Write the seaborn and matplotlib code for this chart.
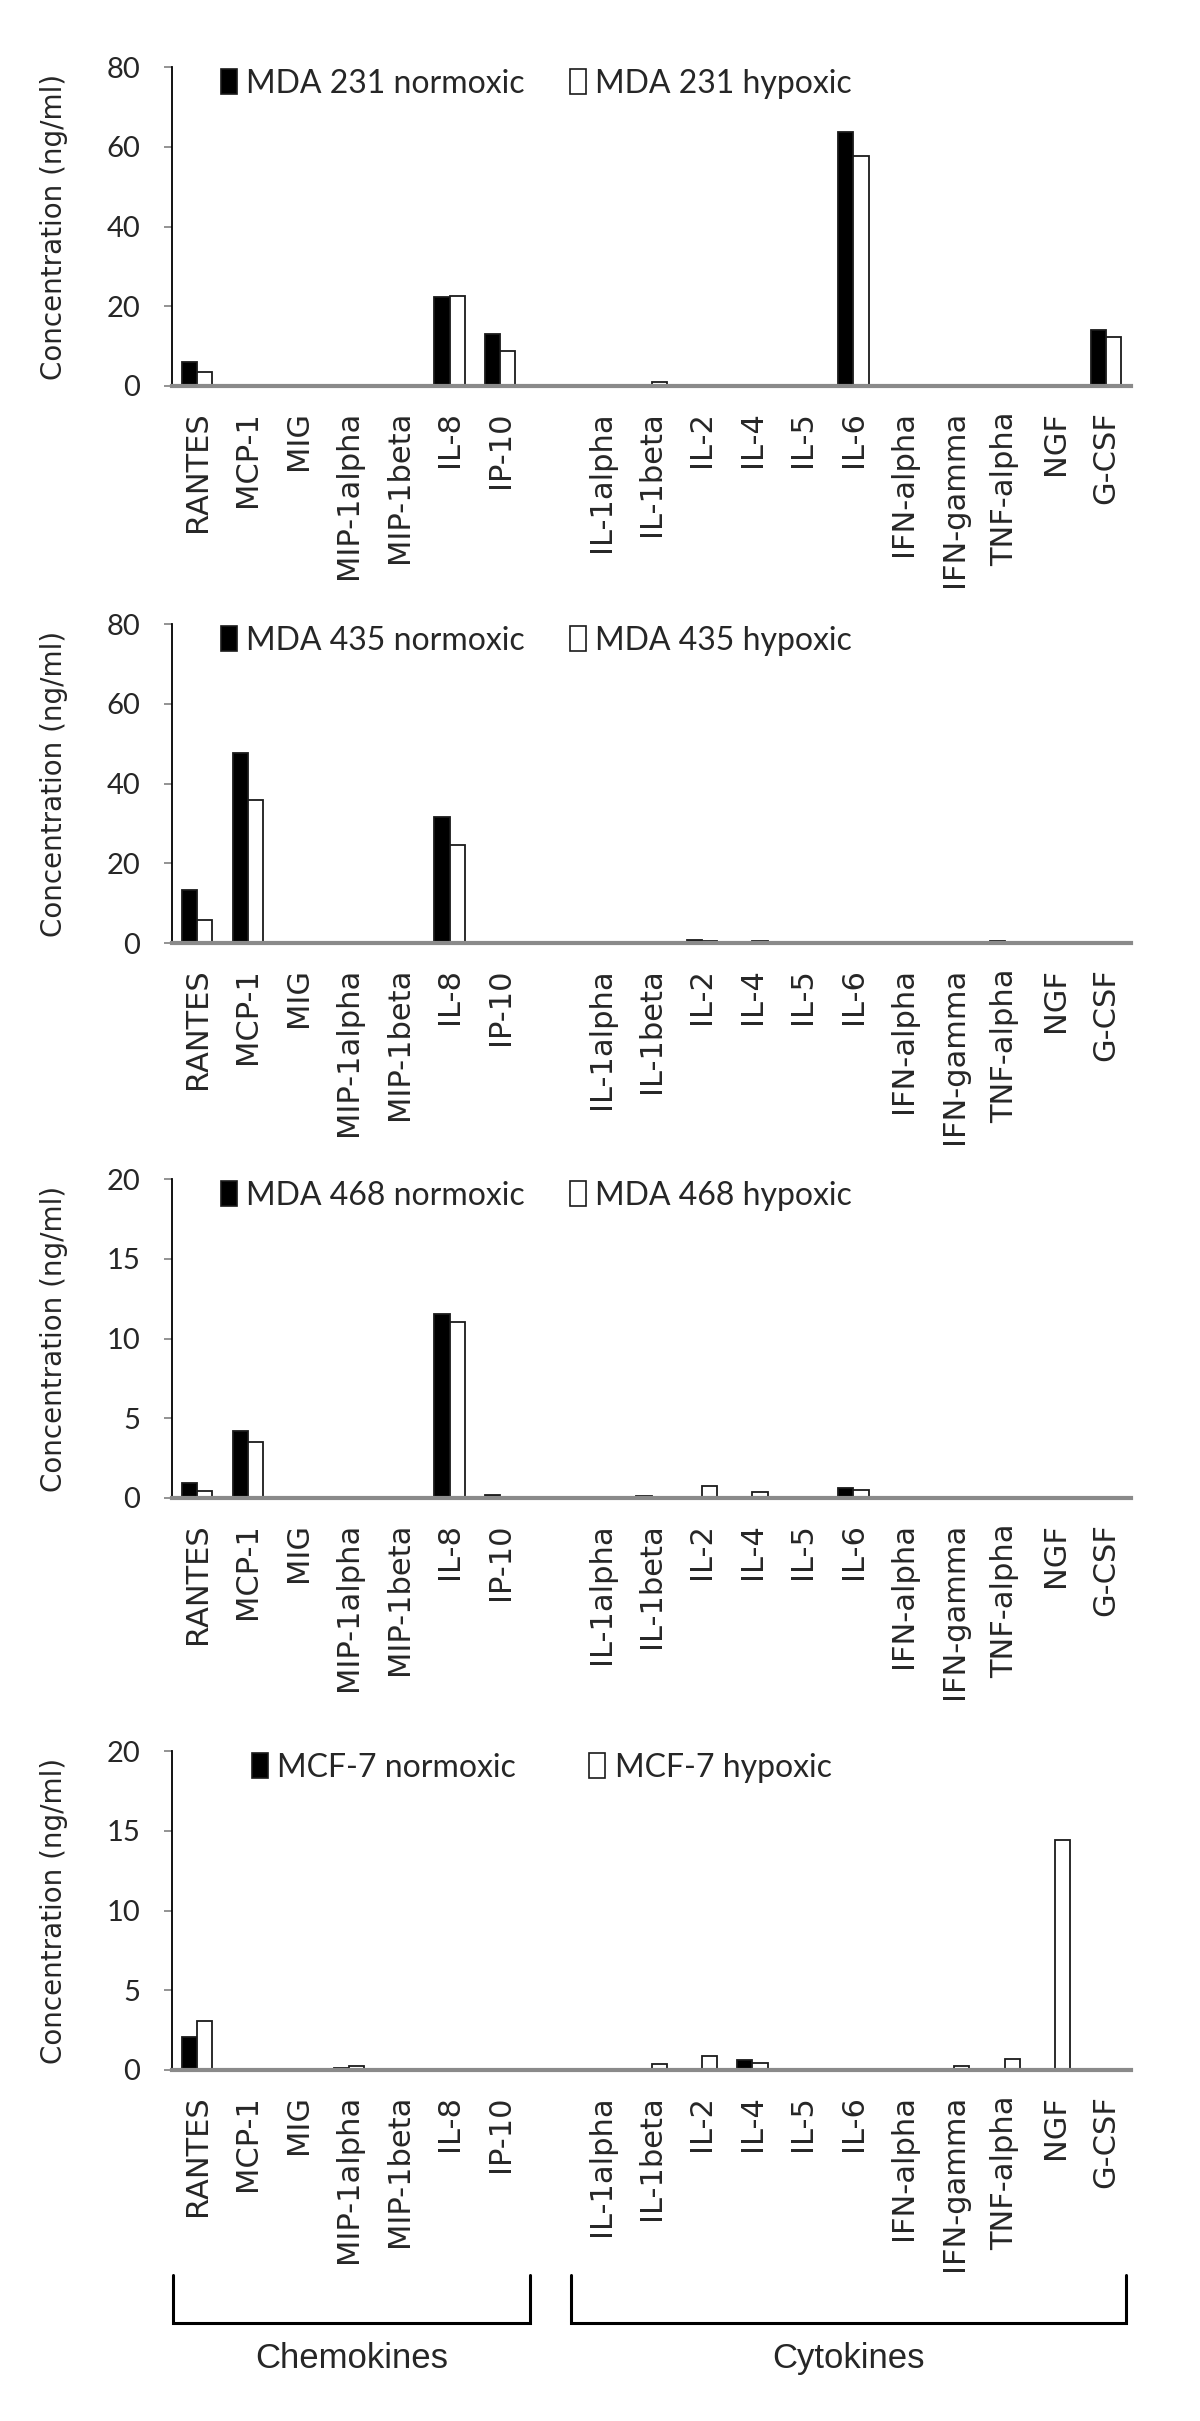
import matplotlib
matplotlib.use('Agg')
import matplotlib.pyplot as plt
import matplotlib.transforms as mtransforms
from matplotlib.patches import Patch
import pandas as pd
import seaborn as sns

chemokines = ['RANTES', 'MCP-1', 'MIG', 'MIP-1alpha', 'MIP-1beta', 'IL-8', 'IP-10']
cytokines = ['IL-1alpha', 'IL-1beta', 'IL-2', 'IL-4', 'IL-5', 'IL-6',
             'IFN-alpha', 'IFN-gamma', 'TNF-alpha', 'NGF', 'G-CSF']
markers = chemokines + cytokines
# blank slot between the two groups
order = chemokines + [' '] + cytokines

# concentrations (ng/ml), same order as markers
mda231_norm = [6.1, 0, 0, 0, 0, 22.3, 13.0, 0.2, 0.3, 0, 0, 0, 63.7, 0, 0, 0, 0, 14.1]
mda231_hyp = [3.6, 0, 0, 0, 0, 22.5, 8.9, 0.3, 1.1, 0, 0, 0, 57.6, 0, 0, 0, 0, 12.3]
mda435_norm = [13.4, 47.6, 0, 0.3, 0, 31.6, 0, 0, 0.3, 0.8, 0.3, 0, 0, 0, 0.25, 0.4, 0, 0]
mda435_hyp = [5.7, 35.8, 0, 0.25, 0, 24.7, 0, 0, 0, 0.5, 0.45, 0, 0, 0, 0.1, 0, 0, 0]
mda468_norm = [0.95, 4.2, 0, 0, 0, 11.55, 0.2, 0, 0.1, 0, 0, 0, 0.65, 0, 0, 0, 0, 0]
mda468_hyp = [0.45, 3.5, 0, 0, 0, 11.05, 0.05, 0, 0, 0.75, 0.35, 0, 0.5, 0, 0, 0, 0, 0]
mcf7_norm = [2.1, 0, 0, 0.1, 0, 0, 0, 0, 0, 0, 0.6, 0, 0, 0, 0, 0, 0, 0]
mcf7_hyp = [3.05, 0, 0, 0.27, 0, 0, 0, 0, 0.4, 0.85, 0.46, 0, 0, 0, 0.25, 0.68, 14.45, 0]

cell_lines = ['MDA 231', 'MDA 435', 'MDA 468', 'MCF-7']
normoxic = [mda231_norm, mda435_norm, mda468_norm, mcf7_norm]
hypoxic = [mda231_hyp, mda435_hyp, mda468_hyp, mcf7_hyp]
y_max = [80, 80, 20, 20]
y_step = [20, 20, 5, 5]

sns.set_style('white')
plt.rcParams['font.family'] = ['DejaVu Sans']

W, H = 1200, 2421
fig = plt.figure(figsize=(W / 100, H / 100), dpi=100)

# axes placement in pixels: bottom edge of each panel
panel_bottoms = [386, 943, 1498, 2070]
ax_left, ax_width, ax_height = 172, 959, 319
legend_x = [0.051, 0.051, 0.051, 0.083]
legend_colspace = [1.4, 1.4, 1.4, 2.3]
edge = '#1a1a1a'

axes = []
for i, name in enumerate(cell_lines):
    b = panel_bottoms[i]
    ax = fig.add_axes([ax_left / W, 1 - b / H, ax_width / W, ax_height / H])
    axes.append(ax)

    lab_n = f'{name} normoxic'
    lab_h = f'{name} hypoxic'
    df = pd.DataFrame({
        'marker': markers * 2,
        'group': [lab_n] * len(markers) + [lab_h] * len(markers),
        'conc': normoxic[i] + hypoxic[i],
    })
    sns.barplot(data=df, x='marker', y='conc', hue='group', order=order,
                hue_order=[lab_n, lab_h], palette=['black', 'white'],
                saturation=1, width=0.6, edgecolor=edge, linewidth=1.3,
                errorbar=None, legend=False, ax=ax)

    # zero values are not drawn in the original
    for p in ax.patches:
        if p.get_height() == 0:
            p.set_visible(False)

    ax.set_xlim(-0.5, len(order) - 0.5)
    ax.set_ylim(0, y_max[i])
    ax.set_yticks(range(0, y_max[i] + 1, y_step[i]))
    ax.set_xlabel('')
    ax.set_ylabel('Concentration (ng/ml)', fontsize=20, family='DejaVu Sans')
    ax.yaxis.set_label_coords(-0.108, 0.5)

    for s in ['top', 'right']:
        ax.spines[s].set_visible(False)
    ax.spines['left'].set_color('black')
    ax.spines['left'].set_linewidth(1.3)
    ax.spines['bottom'].set_color('#8a8a8a')
    ax.spines['bottom'].set_linewidth(3)

    ax.tick_params(axis='x', length=0, pad=18, labelsize=22, labelrotation=90)
    ax.tick_params(axis='y', direction='out', length=6, width=1.3,
                   color='#8a8a8a', pad=17, labelsize=21, left=True)
    for t in ax.get_yticklabels():
        t.set_family('Lato')

    handles = [Patch(facecolor='black', edgecolor=edge, linewidth=1.2),
               Patch(facecolor='white', edgecolor=edge, linewidth=1.2)]
    ax.legend(handles, [lab_n, lab_h], ncol=2, loc='upper left',
              bbox_to_anchor=(legend_x[i], 0.995), frameon=False,
              prop={'family': 'Lato', 'size': 23},
              handlelength=0.5, handleheight=0.8, handletextpad=0.3,
              columnspacing=legend_colspace[i], borderpad=0, borderaxespad=0)

# group brackets under the last panel
ax = axes[-1]
trans = mtransforms.blended_transform_factory(ax.transData, ax.transAxes)
groups = [('Chemokines', -0.48, 6.6), ('Cytokines', 7.4, 18.4)]
y_top, y_bot, y_txt = -0.643, -0.793, -0.905
for label, x0, x1 in groups:
    ax.plot([x0, x0, x1, x1], [y_top, y_bot, y_bot, y_top], color='black',
            lw=2.2, transform=trans, clip_on=False, solid_joinstyle='miter')
    ax.text((x0 + x1) / 2, y_txt, label, transform=trans, ha='center',
            va='center', fontsize=25, family='Liberation Sans')

fig.savefig('out.png', dpi=100)
